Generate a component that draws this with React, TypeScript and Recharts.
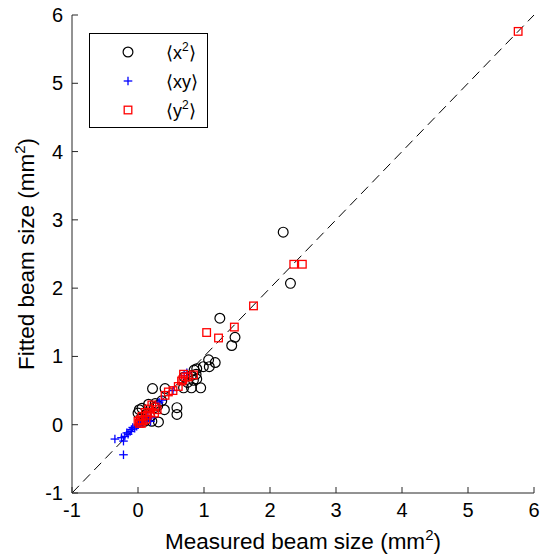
import React from 'react';
import { ScatterChart, Scatter, XAxis, YAxis, ReferenceLine, Label } from 'recharts';

// <x^2> (black circles)
const x2Measured = [2.2, 2.31, 1.24, 1.47, 1.42, 1.07, 1.17, 1.08, 0.99, 0.89, 0.88, 0.89, 0.95, 0.81, 0.69, 0.41, 0.22, 0.59, 0.59, 0.4, 0.31, 0.36, 0.26, 0.16, 0.02, 0.0, 0.18, 0.21, 0.81, 0.84, 0.75, 0.7, 0.05, 0.1, 0.25, 0.3, 0.12, 0.85, 0.06];
const x2Fitted = [2.82, 2.07, 1.56, 1.28, 1.16, 0.95, 0.91, 0.85, 0.85, 0.82, 0.74, 0.67, 0.54, 0.54, 0.54, 0.53, 0.53, 0.25, 0.15, 0.22, 0.04, 0.35, 0.31, 0.3, 0.22, 0.17, 0.12, 0.05, 0.72, 0.65, 0.62, 0.7, 0.1, 0.05, 0.25, 0.28, 0.15, 0.8, 0.24];

// <xy> (blue pluses)
const xyMeasured = [-0.35, -0.22, -0.22, -0.2, -0.17, -0.15, -0.12, -0.1, -0.08, -0.05, -0.02, 0.0, 0.03, 0.06, 0.19, 0.2, 0.32, 0.36, 0.53, 0.74, 0.7, 0.1, -0.25, 0.15];
const xyFitted = [-0.21, -0.44, -0.24, -0.17, -0.12, -0.14, -0.1, -0.07, -0.04, -0.05, -0.02, 0.0, 0.02, 0.03, 0.05, 0.1, 0.33, 0.36, 0.5, 0.76, 0.72, 0.06, -0.19, 0.12];

// <y^2> (red squares)
const y2Measured = [5.76, 2.36, 2.49, 1.75, 1.46, 1.04, 1.22, 0.84, 0.69, 0.72, 0.66, 0.61, 0.53, 0.46, 0.41, 0.76, 0.68, 0.21, 0.26, 0.29, 0.16, 0.11, 0.14, 0.06, 0.03, 0.0, 0.08, 0.05, 0.12, 0.19, 0.02, 0.25];
const y2Fitted = [5.76, 2.35, 2.35, 1.74, 1.43, 1.35, 1.27, 0.73, 0.74, 0.7, 0.64, 0.56, 0.5, 0.48, 0.43, 0.7, 0.66, 0.29, 0.26, 0.22, 0.23, 0.18, 0.14, 0.12, 0.07, 0.05, 0.06, 0.02, 0.08, 0.18, 0.02, 0.17];

const axisTicks = [-1, 0, 1, 2, 3, 4, 5, 6];
const identityLine = [{ x: -1, y: -1 }, { x: 6, y: 6 }];

const toPoints = (xs: number[], ys: number[]) => xs.map((x, i) => ({ x, y: ys[i] }));
const x2Data = toPoints(x2Measured, x2Fitted);
const xyData = toPoints(xyMeasured, xyFitted);
const y2Data = toPoints(y2Measured, y2Fitted);

const FONT = '"Liberation Sans", Arial, Helvetica, sans-serif';
const AXIS = '#262626';
const TICK_LEN = 6;

const CircleShape = (p: any) => (
  <circle cx={p.cx} cy={p.cy} r={4.9} fill="none" stroke="#000" strokeWidth={1.2} />
);
const PlusShape = (p: any) => (
  <g stroke="#0000ff" strokeWidth={1.3}>
    <line x1={p.cx - 4.3} y1={p.cy} x2={p.cx + 4.3} y2={p.cy} />
    <line x1={p.cx} y1={p.cy - 4.3} x2={p.cx} y2={p.cy + 4.3} />
  </g>
);
const SquareShape = (p: any) => (
  <rect x={p.cx - 3.8} y={p.cy - 3.8} width={7.6} height={7.6} fill="none" stroke="#ff0000" strokeWidth={1.3} />
);

const BottomTick = ({ x, y, payload }: any) => (
  <g>
    <line x1={x} y1={y} x2={x} y2={y - TICK_LEN} stroke={AXIS} />
    <text x={x} y={y + 24} textAnchor="middle" fontSize={20} fontFamily={FONT} fill="#000">
      {payload.value}
    </text>
  </g>
);
const LeftTick = ({ x, y, payload }: any) => (
  <g>
    <line x1={x} y1={y} x2={x + TICK_LEN} y2={y} stroke={AXIS} />
    <text x={x - 9} y={y + 7} textAnchor="end" fontSize={20} fontFamily={FONT} fill="#000">
      {payload.value}
    </text>
  </g>
);
const TopTick = ({ x, y }: any) => <line x1={x} y1={y} x2={x} y2={y + TICK_LEN} stroke={AXIS} />;
const RightTick = ({ x, y }: any) => <line x1={x} y1={y} x2={x - TICK_LEN} y2={y} stroke={AXIS} />;

const XLabel = ({ viewBox }: any) => (
  <text x={viewBox.x + viewBox.width / 2} y={viewBox.y + 56} textAnchor="middle" fontSize={22.5} fontFamily={FONT} fill="#000">
    Measured beam size (mm<tspan dy={-9} fontSize={15}>2</tspan><tspan dy={9}>)</tspan>
  </text>
);
const YLabel = ({ viewBox }: any) => {
  const cx = 34;
  const cy = viewBox.y + viewBox.height / 2;
  return (
    <text x={cx} y={cy} transform={`rotate(-90, ${cx}, ${cy})`} textAnchor="middle" fontSize={22.5} fontFamily={FONT} fill="#000">
      Fitted beam size (mm<tspan dy={-9} fontSize={15}>2</tspan><tspan dy={9}>)</tspan>
    </text>
  );
};

const legendItems = [
  { key: 'x2', label: 'x', sup: '2', marker: 'circle' },
  { key: 'xy', label: 'xy', sup: '', marker: 'plus' },
  { key: 'y2', label: 'y', sup: '2', marker: 'square' },
];

const LegendBox = () => (
  <svg width={120} height={96} style={{ position: 'absolute', left: 89, top: 33 }}>
    <rect x={0.5} y={0.5} width={118} height={94} fill="#fff" stroke="#000" />
    {legendItems.map((item, i) => {
      const cy = 19 + i * 29;
      const cx = 39;
      return (
        <g key={item.key}>
          {item.marker === 'circle' && <CircleShape cx={cx} cy={cy} />}
          {item.marker === 'plus' && <PlusShape cx={cx} cy={cy} />}
          {item.marker === 'square' && <SquareShape cx={cx} cy={cy} />}
          <text x={77} y={cy + 7} fontSize={18} fontFamily={FONT} fill="#000">
            ⟨{item.label}
            {item.sup && <tspan dy={-8} fontSize={12}>{item.sup}</tspan>}
            <tspan dy={item.sup ? 8 : 0}>⟩</tspan>
          </text>
        </g>
      );
    })}
  </svg>
);

export default function App() {
  return (
    <div style={{ position: 'absolute', left: 0, top: 0, width: 542, height: 554, background: '#fff' }}>
      <ScatterChart width={542} height={554} margin={{ top: 15, right: 8, bottom: 31, left: 32 }}>
        <XAxis
          xAxisId="b"
          type="number"
          dataKey="x"
          domain={[-1, 6]}
          ticks={axisTicks}
          interval={0}
          height={30}
          tickSize={0}
          tickMargin={0}
          tickLine={false}
          tick={<BottomTick />}
          axisLine={{ stroke: AXIS }}
          allowDataOverflow
        >
          <Label content={<XLabel />} />
        </XAxis>
        <XAxis
          xAxisId="t"
          orientation="top"
          type="number"
          dataKey="x"
          domain={[-1, 6]}
          ticks={axisTicks}
          interval={0}
          height={0}
          tickSize={0}
          tickMargin={0}
          tickLine={false}
          tick={<TopTick />}
          axisLine={{ stroke: AXIS }}
          allowDataOverflow
        />
        <YAxis
          yAxisId="l"
          type="number"
          dataKey="y"
          domain={[-1, 6]}
          ticks={axisTicks}
          interval={0}
          width={40}
          tickSize={0}
          tickMargin={0}
          tickLine={false}
          tick={<LeftTick />}
          axisLine={{ stroke: AXIS }}
          allowDataOverflow
        >
          <Label content={<YLabel />} />
        </YAxis>
        <YAxis
          yAxisId="r"
          orientation="right"
          type="number"
          dataKey="y"
          domain={[-1, 6]}
          ticks={axisTicks}
          interval={0}
          width={0}
          tickSize={0}
          tickMargin={0}
          tickLine={false}
          tick={<RightTick />}
          axisLine={{ stroke: AXIS }}
          allowDataOverflow
        />
        <ReferenceLine
          xAxisId="b"
          yAxisId="l"
          segment={identityLine}
          stroke="#000"
          strokeWidth={1}
          strokeDasharray="10 6"
          ifOverflow="visible"
        />
        <Scatter xAxisId="b" yAxisId="l" data={x2Data} shape={<CircleShape />} isAnimationActive={false} />
        <Scatter xAxisId="b" yAxisId="l" data={xyData} shape={<PlusShape />} isAnimationActive={false} />
        <Scatter xAxisId="b" yAxisId="l" data={y2Data} shape={<SquareShape />} isAnimationActive={false} />
      </ScatterChart>
      <LegendBox />
    </div>
  );
}
